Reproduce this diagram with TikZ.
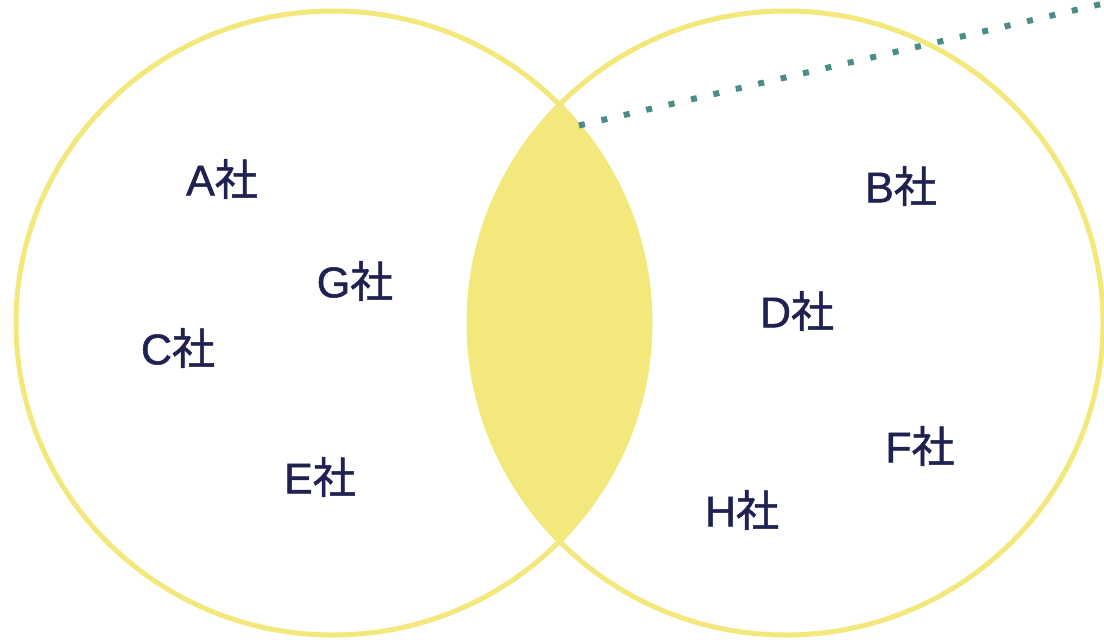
\documentclass[tikz,border=0pt]{standalone}
\usepackage{fontspec}
\setmainfont[FakeBold=1.2]{Liberation Sans}
\newfontfamily\jpfont[FakeBold=1.2]{Noto Sans CJK JP}
\definecolor{vyellow}{HTML}{F2E87B}
\definecolor{vteal}{HTML}{4A8C88}
\definecolor{vnavy}{HTML}{1F2251}
\newcommand{\sha}[1]{#1{\jpfont 社}}
\begin{document}
\begin{tikzpicture}[x=1pt,y=-1pt,
  company/.style={text=vnavy,font=\fontsize{43}{43}\selectfont,inner sep=0pt,anchor=center},
  ring/.style={draw=vyellow,line width=5pt}]
\useasboundingbox (0,0) rectangle (1104,640);
\clip (0,0) rectangle (1104,640);
% lens fill
\begin{scope}
  \clip (333,323) ellipse [x radius=317, y radius=312];
  \fill[vyellow] (786,323) ellipse [x radius=317, y radius=312];
\end{scope}
\draw[ring] (333,323) ellipse [x radius=317, y radius=312];
\draw[ring] (786,323) ellipse [x radius=317, y radius=312];
% dotted line
\coordinate (ds) at (579,125.5);
\coordinate (de) at (1140,-5);
\draw[vteal,line width=6pt,dash pattern=on 6pt off 17pt] (ds) -- (de);
% labels
\node[company] (A) at (222,179) {\sha{A}};
\node[company] (G) at (355,281) {\sha{G}};
\node[company] (C) at (178,348) {\sha{C}};
\node[company] (E) at (320,477) {\sha{E}};
\node[company] (B) at (901,186) {\sha{B}};
\node[company] (D) at (797,311) {\sha{D}};
\node[company] (F) at (920,446) {\sha{F}};
\node[company] (H) at (742,510) {\sha{H}};
\end{tikzpicture}
\end{document}
